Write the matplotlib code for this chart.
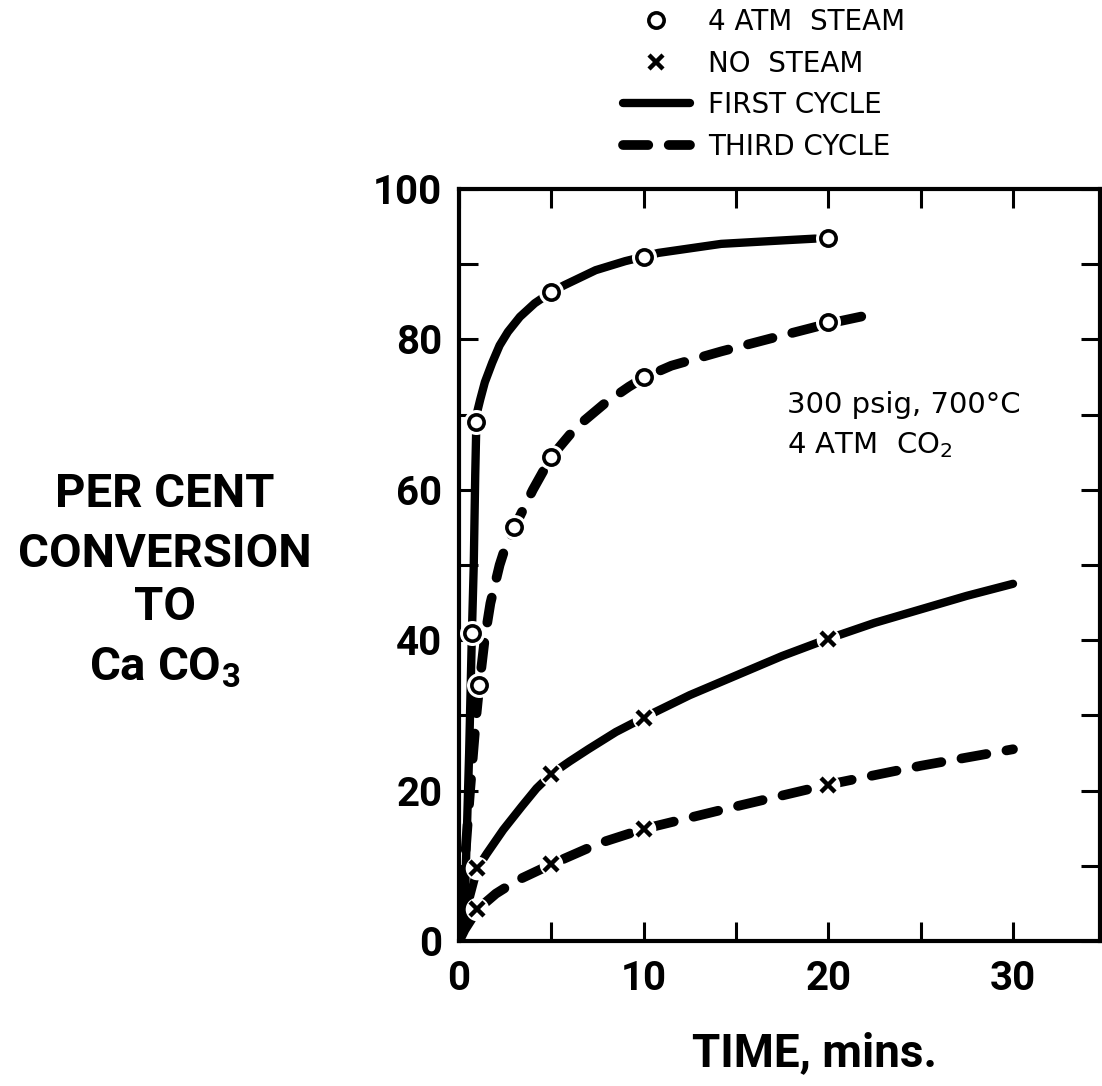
import matplotlib
matplotlib.use("Agg")
import matplotlib.pyplot as plt
from matplotlib.lines import Line2D
from matplotlib.ticker import MultipleLocator

plt.rcParams['font.family'] = ['DejaVu Sans']
plt.rcParams['mathtext.fontset'] = 'dejavusans'
BOLD = ['Roboto', 'DejaVu Sans']

# measured conversions (per cent) vs time (min)
steam_first_t = [0.7, 0.9, 5, 10, 20]
steam_first_y = [41, 69, 86.3, 91, 93.5]
steam_third_t = [1.1, 3, 5, 10, 20]
steam_third_y = [34, 55, 64.4, 75, 82.3]
dry_t = [1, 5, 10, 20]
dry_first_y = [9.7, 22.2, 29.7, 40.2]
dry_third_y = [4.2, 10.2, 14.9, 20.8]

# smoothed curves drawn through the data
steam_first_curve_t = [0, 0.35, 0.55, 0.7, 0.8, 0.88, 0.95, 1.15, 1.4, 1.8, 2.2, 2.65,
                       3.3, 4.1, 5.0, 5.7, 7.4, 9.0, 10.0, 10.8, 14.2, 17.8, 19.3]
steam_first_curve_y = [0, 8, 25, 41, 50, 62, 70, 72, 74.3, 76.9, 79.2, 81.0,
                       83.0, 84.8, 86.3, 87.2, 89.2, 90.4, 91, 91.5, 92.7, 93.2, 93.4]
steam_third_curve_t = [0, 0.3, 0.6, 0.9, 1.1, 1.4, 1.7, 2.2, 2.5, 3.0, 4.0, 5.0, 6.3,
                       7.9, 9.2, 10, 11.5, 14.2, 17.0, 18.9, 20, 22.1]
steam_third_curve_y = [0, 10, 20, 29, 34, 40.3, 44.9, 50, 52.3, 55, 60, 64.4, 68.2,
                       71.5, 73.7, 74.9, 76.5, 78.4, 80.2, 81.4, 82.1, 83.2]
dry_first_curve_t = [0, 0.5, 1, 1.5, 2.4, 3.4, 4.2, 5, 6, 7, 8.5, 10, 12.5, 15,
                     17.5, 20, 22.5, 25, 27.5, 30]
dry_first_curve_y = [0, 5, 9.7, 11.6, 14.8, 17.9, 20.3, 22.2, 23.9, 25.5, 27.8, 29.7,
                     32.7, 35.3, 37.9, 40.2, 42.3, 44.1, 45.9, 47.5]
dry_third_curve_t = [0, 0.3, 1, 2, 3.1, 5, 7.6, 10, 15, 20, 25, 30]
dry_third_curve_y = [0, 1.5, 4.2, 6.3, 8, 10.2, 13, 14.9, 17.9, 20.8, 23.3, 25.5]

x_major = [0, 10, 20, 30]
x_minor = [5, 15, 25]
y_major = [0, 20, 40, 60, 80, 100]

ylabel_lines = ["PER CENT", "CONVERSION", "TO", r"Ca CO$_\mathregular{3}$"]
legend_labels = ["4 ATM  STEAM", "NO  STEAM", "FIRST CYCLE", "THIRD CYCLE"]
conditions = ["300 psig, 700°C", r"4 ATM  CO$_2$"]

fig = plt.figure(figsize=(11.02, 10.86), dpi=100)
ax = fig.add_axes([0.4165, 0.1335, 0.5815, 0.6925])

solid = dict(color='black', lw=6, solid_capstyle='round', zorder=2)
dashed = dict(color='black', lw=7, dash_capstyle='round', dashes=(2.6, 2.1), zorder=2)

ax.plot(steam_first_curve_t, steam_first_curve_y, **solid)
ax.plot(dry_first_curve_t, dry_first_curve_y, **solid)
ax.plot(steam_third_curve_t, steam_third_curve_y, **dashed)
ax.plot(dry_third_curve_t, dry_third_curve_y, **dashed)

# white halos leave the small gaps round each point
for tt, yy in [(steam_first_t, steam_first_y), (steam_third_t, steam_third_y)]:
    ax.plot(tt, yy, 'o', ms=18, mfc='white', mec='none', zorder=3)
    ax.plot(tt, yy, 'o', ms=11, mfc='white', mec='black', mew=2.6, zorder=4)
for yy in [dry_first_y, dry_third_y]:
    ax.plot(dry_t, yy, 'o', ms=17, mfc='white', mec='none', zorder=3)
    ax.plot(dry_t, yy, 'x', ms=10, mec='black', mew=3.2, zorder=4)

ax.set_xlim(0, 34.7)
ax.set_ylim(0, 100)
ax.xaxis.set_major_locator(plt.FixedLocator(x_major))
ax.xaxis.set_minor_locator(plt.FixedLocator(x_minor))
ax.yaxis.set_major_locator(plt.FixedLocator(y_major))
ax.yaxis.set_minor_locator(MultipleLocator(10))
ax.tick_params(which='both', direction='in', top=True, right=True,
               length=14, width=2.2, color='black')
ax.tick_params(axis='x', pad=14, labelsize=29)
ax.tick_params(axis='y', pad=12, labelsize=29)
for lab in ax.get_xticklabels() + ax.get_yticklabels():
    lab.set_fontfamily(BOLD)
    lab.set_fontweight('bold')
for sp in ax.spines.values():
    sp.set_linewidth(3)

# y axis title, one centred line at a time
for txt, ybase in zip(ylabel_lines, [507, 567, 620, 680]):
    fig.text(165 / 1102, 1 - ybase / 1086, txt, ha='center', va='baseline',
             fontsize=34, fontweight='bold', family=BOLD)

fig.text(815 / 1102, 1 - 1066 / 1086, "TIME, mins.", ha='center', va='baseline',
         fontsize=33, fontweight='bold', family=BOLD)

for txt, ybase in zip(conditions, [413, 453]):
    fig.text(787 / 1102, 1 - ybase / 1086, txt, ha='left', va='baseline', fontsize=21)

handles = [
    Line2D([], [], ls='none', marker='o', ms=11, mfc='white', mec='black', mew=2.6),
    Line2D([], [], ls='none', marker='x', ms=10, mec='black', mew=3.2),
    Line2D([], [], **solid),
    Line2D([], [], **dashed),
]
ax.legend(handles, legend_labels, loc='upper left', bbox_to_anchor=(623 / 1102, 1 - 8 / 1086),
          bbox_transform=fig.transFigure, frameon=False, borderpad=0, borderaxespad=0,
          handlelength=2.4, handletextpad=0.65, labelspacing=0.49, fontsize=20)

fig.savefig("out.png", dpi=100)
